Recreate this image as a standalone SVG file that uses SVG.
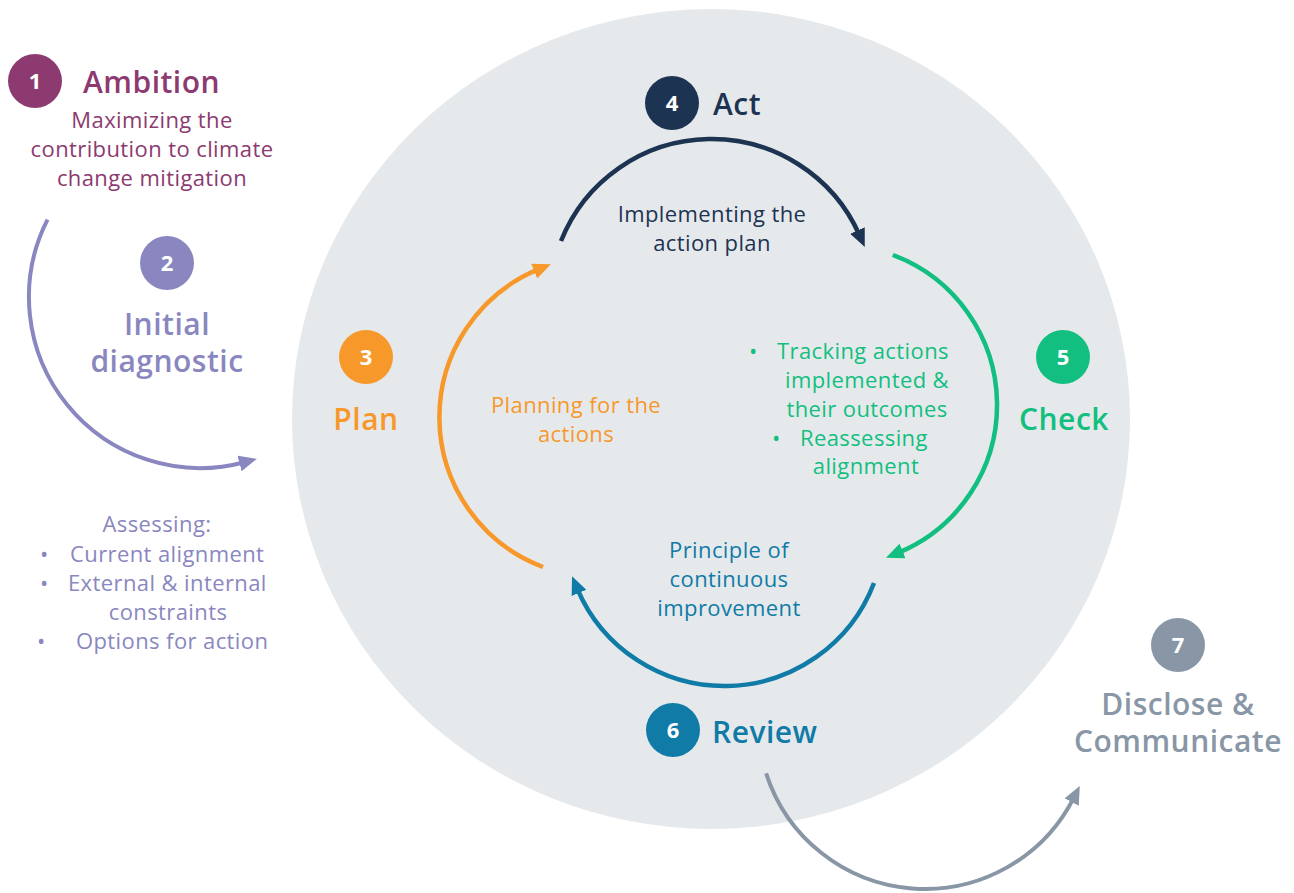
<svg xmlns="http://www.w3.org/2000/svg" width="1294" height="893" viewBox="0 0 1294 893">
<defs>
<style>
.num{font-family:"Open Sans","Noto Sans",sans-serif;font-weight:700;font-size:22px;fill:#fff;text-anchor:middle}
.hd{font-family:"Open Sans","Noto Sans",sans-serif;font-weight:600;font-size:30px;letter-spacing:0.5px}
.bd{font-family:"Open Sans","Noto Sans",sans-serif;font-weight:400;font-size:22px;letter-spacing:0.4px}
.mid{text-anchor:middle}
.arc{fill:none;stroke-width:4.5}
.arc2{fill:none;stroke-width:4}
</style>
<marker id="mNavy" viewBox="0 0 18 16" refX="5" refY="8" markerWidth="18" markerHeight="16" markerUnits="userSpaceOnUse" orient="auto"><path d="M0,0 L18,8 L0,16 z" fill="#1d3352"/></marker>
<marker id="mOrange" viewBox="0 0 18 16" refX="5" refY="8" markerWidth="18" markerHeight="16" markerUnits="userSpaceOnUse" orient="auto"><path d="M0,0 L18,8 L0,16 z" fill="#f7982b"/></marker>
<marker id="mGreen" viewBox="0 0 18 16" refX="5" refY="8" markerWidth="18" markerHeight="16" markerUnits="userSpaceOnUse" orient="auto"><path d="M0,0 L18,8 L0,16 z" fill="#12bf80"/></marker>
<marker id="mBlue" viewBox="0 0 18 16" refX="5" refY="8" markerWidth="18" markerHeight="16" markerUnits="userSpaceOnUse" orient="auto"><path d="M0,0 L18,8 L0,16 z" fill="#0f7ba6"/></marker>
<marker id="mLav" viewBox="0 0 18 16" refX="5" refY="8" markerWidth="18" markerHeight="16" markerUnits="userSpaceOnUse" orient="auto"><path d="M0,0 L18,8 L0,16 z" fill="#8a87c0"/></marker>
<marker id="mGrey" viewBox="0 0 18 16" refX="5" refY="8" markerWidth="18" markerHeight="16" markerUnits="userSpaceOnUse" orient="auto"><path d="M0,0 L18,8 L0,16 z" fill="#8896a6"/></marker>
</defs>
<rect width="1294" height="893" fill="#ffffff"/>
<ellipse id="cycle-bg" cx="711" cy="419" rx="419" ry="410" fill="#e6e9ec"/>

<g id="connectors">
<path class="arc" stroke="#1d3352" d="M561,241 A162,162 0 0 1 859.5,235.1" marker-end="url(#mNavy)"/>
<path class="arc" stroke="#12bf80" d="M892.8,255 A160,160 0 0 1 898,552.9" marker-end="url(#mGreen)"/>
<path class="arc" stroke="#0f7ba6" d="M874,583 A160,160 0 0 1 577.1,588.3" marker-end="url(#mBlue)"/>
<path class="arc" stroke="#f7982b" d="M543,567 A160,160 0 0 1 538.8,269.2" marker-end="url(#mOrange)"/>
<path class="arc2" stroke="#8a87c0" d="M47.5,219.6 A171,171 0 0 0 244.3,462.2" marker-end="url(#mLav)"/>
<path class="arc2" stroke="#8896a6" d="M766.1,773.3 A167,167 0 0 0 1073.9,797.6" marker-end="url(#mGrey)"/>
</g>

<g id="node-1-ambition" fill="#8c3a6f">
<circle cx="35" cy="81" r="27"/>
<text class="num" x="35" y="89">1</text>
<text class="hd" x="83" y="93">Ambition</text>
<text class="bd mid" x="152" y="128">Maximizing the</text>
<text class="bd mid" x="152" y="157">contribution to climate</text>
<text class="bd mid" x="152" y="186">change mitigation</text>
</g>

<g id="node-2-initial-diagnostic" fill="#8a87c0">
<circle cx="167" cy="263" r="27"/>
<text class="num" x="167" y="271">2</text>
<text class="hd mid" x="167" y="335">Initial</text>
<text class="hd mid" x="167" y="372">diagnostic</text>
<text class="bd mid" x="157" y="532">Assessing:</text>
<text class="bd" x="40" y="562">•</text>
<text class="bd" x="70" y="562">Current alignment</text>
<text class="bd" x="40" y="591">•</text>
<text class="bd" x="68" y="591">External &amp; internal</text>
<text class="bd mid" x="168" y="620">constraints</text>
<text class="bd" x="37" y="649">•</text>
<text class="bd" x="76" y="649">Options for action</text>
</g>

<g id="node-3-plan" fill="#f7982b">
<circle cx="366" cy="357" r="27"/>
<text class="num" x="366" y="365">3</text>
<text class="hd mid" x="366" y="430">Plan</text>
<text class="bd mid" x="576" y="413">Planning for the</text>
<text class="bd mid" x="576" y="442">actions</text>
</g>

<g id="node-4-act" fill="#1d3352">
<circle cx="672" cy="103" r="27"/>
<text class="num" x="672" y="111">4</text>
<text class="hd" x="713" y="115">Act</text>
<text class="bd mid" x="712" y="222">Implementing the</text>
<text class="bd mid" x="712" y="251">action plan</text>
</g>

<g id="node-5-check" fill="#12bf80">
<circle cx="1063" cy="357" r="27"/>
<text class="num" x="1063" y="365">5</text>
<text class="hd mid" x="1064" y="430">Check</text>
<text class="bd" x="749" y="359">•</text>
<text class="bd" x="777" y="359">Tracking actions</text>
<text class="bd mid" x="867" y="388">implemented &amp;</text>
<text class="bd mid" x="867" y="417">their outcomes</text>
<text class="bd" x="772" y="446">•</text>
<text class="bd" x="800" y="446">Reassessing</text>
<text class="bd mid" x="866" y="474">alignment</text>
</g>

<g id="node-6-review" fill="#0f7ba6">
<circle cx="673" cy="730" r="27"/>
<text class="num" x="673" y="738">6</text>
<text class="hd" x="712" y="743">Review</text>
<text class="bd mid" x="729" y="558">Principle of</text>
<text class="bd mid" x="729" y="587">continuous</text>
<text class="bd mid" x="729" y="616">improvement</text>
</g>

<g id="node-7-disclose" fill="#8896a6">
<circle cx="1178" cy="645" r="27"/>
<text class="num" x="1178" y="653">7</text>
<text class="hd mid" x="1178" y="715">Disclose &amp;</text>
<text class="hd mid" x="1178" y="752">Communicate</text>
</g>
</svg>
